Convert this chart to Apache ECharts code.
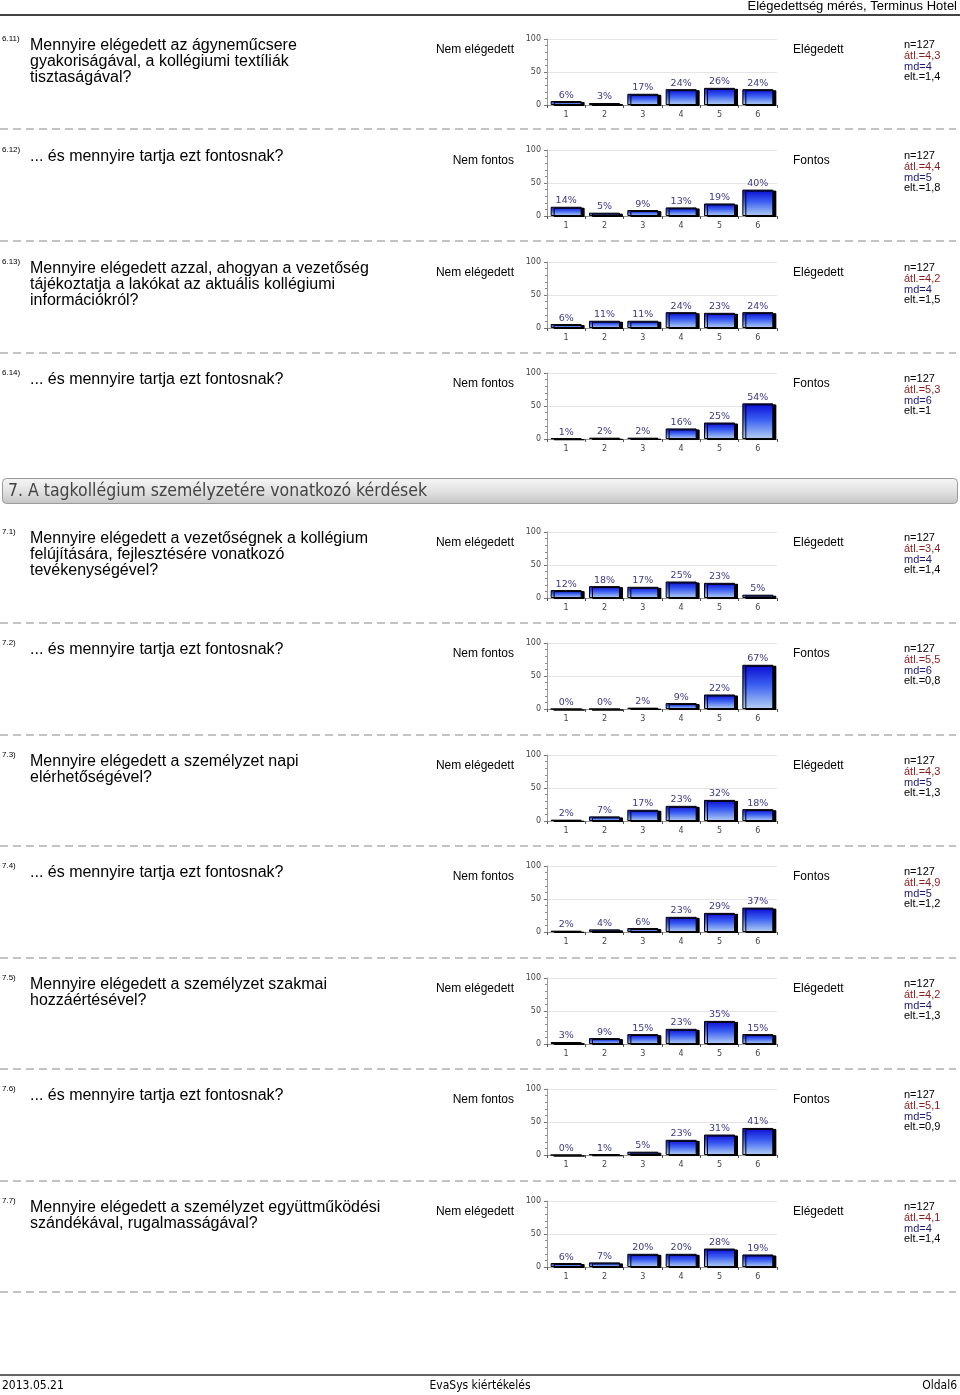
<!DOCTYPE html>
<html>
<head>
<meta charset="utf-8">
<script src="https://cdn.jsdelivr.net/npm/echarts@6/dist/echarts.min.js"></script>
<style>
html,body{margin:0;padding:0;background:#fff;}
#main{width:960px;height:1395px;}
</style>
</head>
<body>
<div id="main"></div>
<script>
// ---------- DATA ----------
const categories = ['1', '2', '3', '4', '5', '6'];
const qNumbers = ['6.11)', '6.12)', '6.13)', '6.14)', '7.1)', '7.2)', '7.3)', '7.4)', '7.5)', '7.6)', '7.7)'];
const questions = [
  'Mennyire elégedett az ágyneműcsere\ngyakoriságával, a kollégiumi textíliák\ntisztaságával?',
  '... és mennyire tartja ezt fontosnak?',
  'Mennyire elégedett azzal, ahogyan a vezetőség\ntájékoztatja a lakókat az aktuális kollégiumi\ninformációkról?',
  '... és mennyire tartja ezt fontosnak?',
  'Mennyire elégedett a vezetőségnek a kollégium\nfelújítására, fejlesztésére vonatkozó\ntevékenységével?',
  '... és mennyire tartja ezt fontosnak?',
  'Mennyire elégedett a személyzet napi\nelérhetőségével?',
  '... és mennyire tartja ezt fontosnak?',
  'Mennyire elégedett a személyzet szakmai\nhozzáértésével?',
  '... és mennyire tartja ezt fontosnak?',
  'Mennyire elégedett a személyzet együttműködési\nszándékával, rugalmasságával?'
];
const leftLabels = ['Nem elégedett', 'Nem fontos', 'Nem elégedett', 'Nem fontos', 'Nem elégedett', 'Nem fontos', 'Nem elégedett', 'Nem fontos', 'Nem elégedett', 'Nem fontos', 'Nem elégedett'];
const rightLabels = ['Elégedett', 'Fontos', 'Elégedett', 'Fontos', 'Elégedett', 'Fontos', 'Elégedett', 'Fontos', 'Elégedett', 'Fontos', 'Elégedett'];
const values = [
  [6, 3, 17, 24, 26, 24],
  [14, 5, 9, 13, 19, 40],
  [6, 11, 11, 24, 23, 24],
  [1, 2, 2, 16, 25, 54],
  [12, 18, 17, 25, 23, 5],
  [0, 0, 2, 9, 22, 67],
  [2, 7, 17, 23, 32, 18],
  [2, 4, 6, 23, 29, 37],
  [3, 9, 15, 23, 35, 15],
  [0, 1, 5, 23, 31, 41],
  [6, 7, 20, 20, 28, 19]
];
const statN = ['n=127', 'n=127', 'n=127', 'n=127', 'n=127', 'n=127', 'n=127', 'n=127', 'n=127', 'n=127', 'n=127'];
const statAvg = ['átl.=4,3', 'átl.=4,4', 'átl.=4,2', 'átl.=5,3', 'átl.=3,4', 'átl.=5,5', 'átl.=4,3', 'átl.=4,9', 'átl.=4,2', 'átl.=5,1', 'átl.=4,1'];
const statMd = ['md=4', 'md=5', 'md=4', 'md=6', 'md=4', 'md=6', 'md=5', 'md=5', 'md=4', 'md=5', 'md=4'];
const statSd = ['elt.=1,4', 'elt.=1,8', 'elt.=1,5', 'elt.=1', 'elt.=1,4', 'elt.=0,8', 'elt.=1,3', 'elt.=1,2', 'elt.=1,3', 'elt.=0,9', 'elt.=1,4'];
const headerText = 'Elégedettség mérés, Terminus Hotel';
const sectionTitle = '7. A tagkollégium személyzetére vonatkozó kérdések';
const footerLeft = '2013.05.21';
const footerCenter = 'EvaSys kiértékelés';
const footerRight = 'Oldal6';

// ---------- LAYOUT ----------
const rowY = [44, 155, 267, 378, 537, 648, 760, 871, 983, 1094, 1206];
const dashedY = [129, 241, 353, 623, 735, 846, 958, 1069, 1181, 1292];
const FONT = '"Liberation Sans", Arial, sans-serif';
const NARROW = '"DejaVu Sans Condensed", "Liberation Sans Narrow", Arial, sans-serif';

const chart = echarts.init(document.getElementById('main'), null, {renderer: 'canvas'});

const grids = [], xAxes = [], yAxes = [], series = [], graphics = [];

function txt(x, y, text, opts) {
  opts = opts || {};
  graphics.push({
    type: 'text', x: x, y: y, silent: true,
    style: {
      text: text,
      font: opts.font || ('12px ' + FONT),
      fill: opts.fill || '#000',
      textAlign: opts.align || 'left', align: opts.align || 'left',
      textVerticalAlign: 'middle', verticalAlign: 'middle',
      lineHeight: opts.lineHeight || 16
    }
  });
}

const barGradient = new echarts.graphic.LinearGradient(0, 0, 0, 1, [
  {offset: 0, color: '#0a0ad2'},
  {offset: 0.45, color: '#3a5ef2'},
  {offset: 1, color: '#b4d0f2'}
]);

rowY.forEach(function (y, i) {
  const top = y - 5;
  grids.push({left: 547, top: top, width: 230, height: 66});
  xAxes.push({
    type: 'category', gridIndex: i, data: categories,
    axisLine: {lineStyle: {color: '#9a9a9a', width: 1}},
    axisTick: {show: true, length: 3, lineStyle: {color: '#555'}},
    axisLabel: {fontSize: 8, color: '#444', margin: 6, fontFamily: 'DejaVu Sans'}
  });
  yAxes.push({
    type: 'value', gridIndex: i, min: 0, max: 100, interval: 50,
    axisLine: {show: true, lineStyle: {color: '#9a9a9a'}},
    axisTick: {show: true, length: 3, lineStyle: {color: '#777'}},
    minorTick: {show: true, splitNumber: 5, length: 2, lineStyle: {color: '#888'}},
    splitLine: {show: true, lineStyle: {color: '#e4e4e4'}},
    axisLabel: {fontSize: 8, color: '#444', margin: 6, fontFamily: 'DejaVu Sans'}
  });
  series.push({
    type: 'bar', xAxisIndex: i, yAxisIndex: i, data: values[i],
    barWidth: 31, silent: true, animation: false,
    itemStyle: {
      color: barGradient, borderColor: '#000', borderWidth: 1,
      shadowColor: '#000', shadowOffsetX: 3, shadowOffsetY: 1, shadowBlur: 0.5
    },
    label: {
      show: true, position: 'top', distance: 1, formatter: '{c}%',
      fontSize: 9.5, color: '#3b3b85', fontFamily: 'DejaVu Sans'
    }
  });

  txt(2, y - 5, qNumbers[i], {font: '8px ' + FONT});
  const lines = questions[i].split('\n').length;
  txt(30, y + 2 + (lines - 1) * 8, questions[i], {font: '16px ' + FONT, lineHeight: 16});
  txt(514, top + 11, leftLabels[i], {font: '12px ' + FONT, align: 'right'});
  txt(793, top + 11, rightLabels[i], {font: '12px ' + FONT});
  txt(904, top + 6, statN[i], {font: '11px ' + FONT, fill: '#000'});
  txt(904, top + 16.8, statAvg[i], {font: '11px ' + FONT, fill: '#8b1c1c'});
  txt(904, top + 27.6, statMd[i], {font: '11px ' + FONT, fill: '#1c1c78'});
  txt(904, top + 38.4, statSd[i], {font: '11px ' + FONT, fill: '#000'});
});

// header
txt(957, 6, headerText, {font: '13px ' + FONT, align: 'right'});
graphics.push({type: 'line', silent: true, shape: {x1: 0, y1: 15, x2: 960, y2: 15}, style: {stroke: '#444', lineWidth: 2}});

// dashed separators
dashedY.forEach(function (dy) {
  graphics.push({type: 'line', silent: true, shape: {x1: 0, y1: dy, x2: 956, y2: dy}, style: {stroke: '#b0b0b0', lineWidth: 1.5, lineDash: [8, 5]}});
});

// section header box
graphics.push({
  type: 'rect', silent: true,
  shape: {x: 2.5, y: 478.5, width: 955, height: 25, r: 4},
  style: {
    fill: new echarts.graphic.LinearGradient(0, 0, 0, 1, [
      {offset: 0, color: '#f6f6f6'}, {offset: 0.5, color: '#e2e2e2'}, {offset: 1, color: '#c4c4c4'}
    ]),
    stroke: '#9a9a9a', lineWidth: 1
  }
});
txt(8, 491, sectionTitle, {font: '17.5px ' + NARROW, fill: '#444'});

// footer
graphics.push({type: 'line', silent: true, shape: {x1: 0, y1: 1375, x2: 960, y2: 1375}, style: {stroke: '#666', lineWidth: 2}});
txt(2, 1386, footerLeft, {font: '12px ' + NARROW});
txt(480, 1386, footerCenter, {font: '12px ' + NARROW, align: 'center'});
txt(957, 1386, footerRight, {font: '12px ' + NARROW, align: 'right'});

chart.setOption({
  animation: false,
  backgroundColor: '#fff',
  grid: grids,
  xAxis: xAxes,
  yAxis: yAxes,
  series: series,
  graphic: graphics
});
</script>
</body>
</html>
